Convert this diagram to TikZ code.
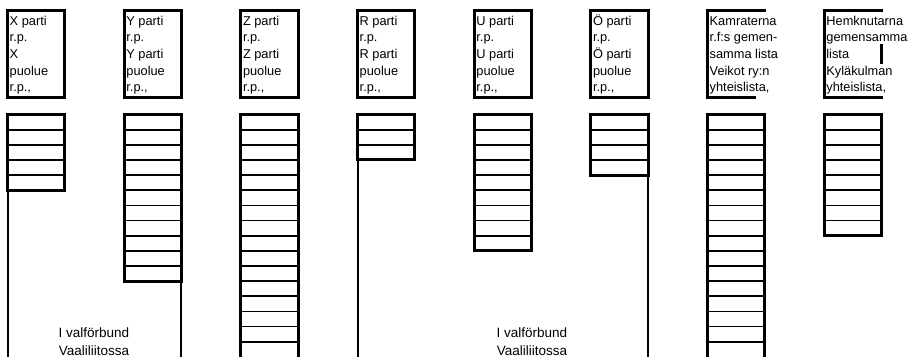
\documentclass[tikz,border=0pt]{standalone}
\usepackage{fontspec}
\setmainfont{Liberation Sans}
\begin{document}
\begin{tikzpicture}[x=1pt,y=-1pt,
  frame/.style={line width=3pt},
  rung/.style={line width=1.7pt},
  stem/.style={line width=2pt},
  hdr/.style={anchor=base west, inner sep=0pt, font={\fontsize{12.8}{16.7}\selectfont}},
  lbl/.style={anchor=base, inner sep=0pt, font={\fontsize{13.5}{17.7}\selectfont}}]
\useasboundingbox (0,0) rectangle (914,357);
\def\W{57.3}
\def\R{15.15}
\def\T{114.5}
% header frames
\foreach \L in {7.5,124.17,240.84,357.51,474.18,590.85}
  \draw[frame] (\L,10.5) rectangle ({\L+\W},97.5);
\draw[frame] (766.32,10.5) -- (707.52,10.5) -- (707.52,97.5) -- (756,97.5);
\draw[frame] (882.99,10.5) -- (824.19,10.5) -- (824.19,97.5) -- (882.99,97.5);
\draw[frame] (881.49,44.4) -- (881.49,63.6);
% header texts
\node[hdr] (hx) at (9.5,25) {\parbox[t]{110pt}{\raggedright X parti\\r.p.\\X\\puolue\\r.p.,}};
\node[hdr] (hy) at (126.2,25) {\parbox[t]{110pt}{\raggedright Y parti\\r.p.\\Y parti\\puolue\\r.p.,}};
\node[hdr] (hz) at (242.8,25) {\parbox[t]{110pt}{\raggedright Z parti\\r.p.\\Z parti\\puolue\\r.p.,}};
\node[hdr] (hr) at (359.5,25) {\parbox[t]{110pt}{\raggedright R parti\\r.p.\\R parti\\puolue\\r.p.,}};
\node[hdr] (hu) at (476.2,25) {\parbox[t]{110pt}{\raggedright U parti\\r.p.\\U parti\\puolue\\r.p.,}};
\node[hdr] (ho) at (592.8,25) {\parbox[t]{110pt}{\raggedright Ö parti\\r.p.\\Ö parti\\puolue\\r.p.,}};
\node[hdr] (hk) at (709.5,25) {\parbox[t]{110pt}{\raggedright Kamraterna\\r.f:s gemen-\\samma lista\\Veikot ry:n\\yhteislista,}};
\node[hdr] (hh) at (826.2,25) {\parbox[t]{110pt}{\raggedright Hemknutarna\\gemensamma\\lista\\Kyläkulman\\yhteislista,}};
% closed ladders
\foreach \L/\n in {7.5/5, 124.17/11, 357.51/3, 474.18/9, 590.85/4, 824.19/8} {
  \pgfmathtruncatemacro\m{\n-1}
  \foreach \k in {1,...,\m}
    \draw[rung] (\L,{\T+\k*\R}) -- ({\L+\W},{\T+\k*\R});
  \draw[frame] (\L,\T) rectangle ({\L+\W},{\T+\n*\R});
}
% open ladders
\foreach \L in {240.84, 707.52} {
  \foreach \k in {1,...,15}
    \draw[rung] (\L,{\T+\k*\R}) -- ({\L+\W},{\T+\k*\R});
  \draw[frame] (\L,357) -- (\L,\T) -- ({\L+\W},\T) -- ({\L+\W},357);
}
% stems
\coordinate (s1a) at (7.5,{\T+5*\R});   \coordinate (s1b) at (7.5,357);
\coordinate (s2a) at (181.47,{\T+11*\R}); \coordinate (s2b) at (181.47,357);
\coordinate (s3a) at (357.51,{\T+3*\R}); \coordinate (s3b) at (357.51,357);
\coordinate (s4a) at (648.15,{\T+4*\R}); \coordinate (s4b) at (648.15,357);
\draw[stem] (s1a) -- (s1b);
\draw[stem] (s2a) -- (s2b);
\draw[stem] (s3a) -- (s3b);
\draw[stem] (s4a) -- (s4b);
% labels
\node[lbl] (v1) at (94,337.3) {\parbox[t]{120pt}{\centering I valförbund\\Vaaliliitossa}};
\node[lbl] (v2) at (532,337.3) {\parbox[t]{120pt}{\centering I valförbund\\Vaaliliitossa}};
\end{tikzpicture}
\end{document}
